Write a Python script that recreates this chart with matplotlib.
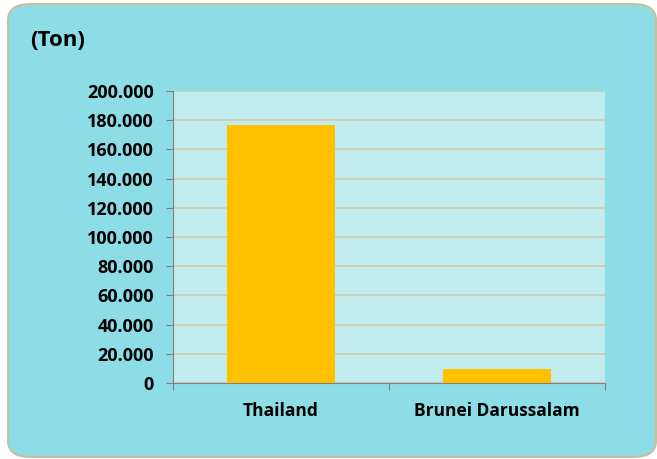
import matplotlib.pyplot as plt
from matplotlib.patches import FancyBboxPatch
from matplotlib.ticker import FuncFormatter

plt.rcParams['font.family'] = ['Open Sans', 'DejaVu Sans']
plt.rcParams['font.weight'] = 'bold'

countries = ["Thailand", "Brunei Darussalam"]
tons = [177000, 9500]
y_ticks = list(range(0, 200001, 20000))

W, H = 657, 459
fig = plt.figure(figsize=(W / 100, H / 100), dpi=100)
fig.patch.set_facecolor('white')

# rounded outer frame
frame = FancyBboxPatch((8 / W, 1 - 457 / H), 648 / W, 453 / H,
                       boxstyle="round,pad=0,rounding_size=0.035",
                       transform=fig.transFigure, facecolor='#8DDDE6',
                       edgecolor='#C9BF9A', linewidth=1.5, zorder=-5)
fig.patches.append(frame)

ax = fig.add_axes([173 / W, 1 - 383 / H, 432 / W, 292 / H])
ax.set_facecolor('#C0ECF0')

x = range(len(countries))
ax.bar(x, tons, width=0.5, color='#FFC000', zorder=3)

ax.set_xlim(-0.5, 1.5)
ax.set_ylim(0, 200000)
ax.set_yticks(y_ticks)
ax.yaxis.set_major_formatter(FuncFormatter(lambda v, p: f"{int(v):,}".replace(",", ".")))
ax.set_xticks([-0.5, 0.5, 1.5], minor=False)
ax.set_xticklabels([])
ax.set_xticks(list(x), minor=True)
ax.set_xticklabels(countries, minor=True)
ax.tick_params(axis='x', which='minor', length=0, pad=14, labelsize=12.5)
ax.tick_params(axis='x', which='major', length=5, direction='out', color='#808080')
ax.tick_params(axis='y', length=5, color='#808080', labelsize=13, pad=9)

ax.grid(axis='y', color='#D0C8A6', linewidth=1.2, zorder=1)
for s in ['top', 'right']:
    ax.spines[s].set_visible(False)
for s in ['left', 'bottom']:
    ax.spines[s].set_color('#808080')

fig.text(30 / W, 1 - 40 / H, "(Ton)", fontsize=16, fontweight='bold', va='center')

fig.savefig('out.png', dpi=100)
